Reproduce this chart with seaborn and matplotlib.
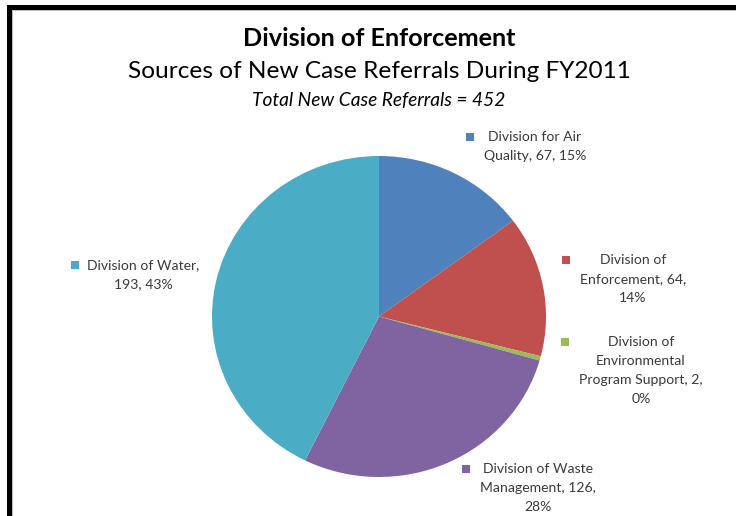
import matplotlib
matplotlib.use("Agg")
import matplotlib.pyplot as plt
from matplotlib.patches import Rectangle
import seaborn as sns

# Referral sources for FY2011
divisions = ["Division for Air Quality", "Division of Enforcement",
             "Division of Environmental Program Support",
             "Division of Waste Management", "Division of Water"]
referrals = [67, 64, 2, 126, 193]
colors = ["#4F81BD", "#C0504D", "#9BBB59", "#8064A2", "#4BACC6"]
label_templates = [
    "Division for Air\nQuality, {v}, {p}%",
    "Division of\nEnforcement, {v},\n{p}%",
    "Division of\nEnvironmental\nProgram Support, {v},\n{p}%",
    "Division of Waste\nManagement, {v},\n{p}%",
    "Division of Water,\n{v}, {p}%",
]
title = "Division of Enforcement"
subtitle = "Sources of New Case Referrals During FY2011"

sns.set_theme(style="white")
plt.rcParams["font.family"] = ["Lato", "DejaVu Sans"]

W, H = 736, 516
fig = plt.figure(figsize=(W / 100, H / 100), dpi=100)
fig.patch.set_facecolor("white")

# pie occupies a slightly wide box, as in the spreadsheet rendering
left, top, right, bottom = 212, 156, 546, 477
ax = fig.add_axes([left / W, 1 - bottom / H, (right - left) / W, (bottom - top) / H])
ax.pie(referrals, colors=colors, startangle=90, counterclock=False,
       wedgeprops=dict(linewidth=0))
ax.set_aspect("auto")
ax.set_xlim(-1, 1)
ax.set_ylim(-1, 1)
ax.axis("off")

# overlay in pixel coordinates for titles, labels and frame
ov = fig.add_axes([0, 0, 1, 1], facecolor="none")
ov.set_xlim(0, W)
ov.set_ylim(H, 0)
ov.axis("off")

ov.text(379, 39, title, ha="center", va="center", fontsize=18.2,
        fontweight="bold", color="black")
ov.text(379, 72, subtitle, ha="center", va="center", fontsize=17.6,
        color="black")
total = sum(referrals)
ov.text(379, 101, f"Total New Case Referrals = {total}", ha="center",
        va="center", fontsize=13.8, style="italic", color="black")

# data labels with legend keys
label_pos = [  # (square x, square y, text center x)
    (470, 137, 535),
    (566, 260, 633),
    (565, 342, 641),
    (466, 469, 538),
    (75, 265, 143),
]
line_h = 19
for (sx, sy, tx), tpl, v, c in zip(label_pos, label_templates, referrals, colors):
    pct = round(100 * v / total)
    txt = tpl.format(v=v, p=pct)
    ov.add_patch(Rectangle((sx - 4, sy - 4), 8, 8, facecolor=c, edgecolor="none"))
    for i, line in enumerate(txt.split("\n")):
        ov.text(tx, sy + i * line_h, line, ha="center", va="center",
                fontsize=10.1, color="#3a3a3a")

# frame edges
ov.add_patch(Rectangle((7, 5), W - 7, 5, facecolor="black", edgecolor="none"))
ov.add_patch(Rectangle((7, 5), 5, H - 5, facecolor="black", edgecolor="none"))
ov.add_patch(Rectangle((12, 10), W - 12, 1.2, facecolor="#bdbdbd", edgecolor="none"))
ov.add_patch(Rectangle((12, 10), 1.2, H - 10, facecolor="#bdbdbd", edgecolor="none"))

fig.savefig("out.png", dpi=100, facecolor="white")
